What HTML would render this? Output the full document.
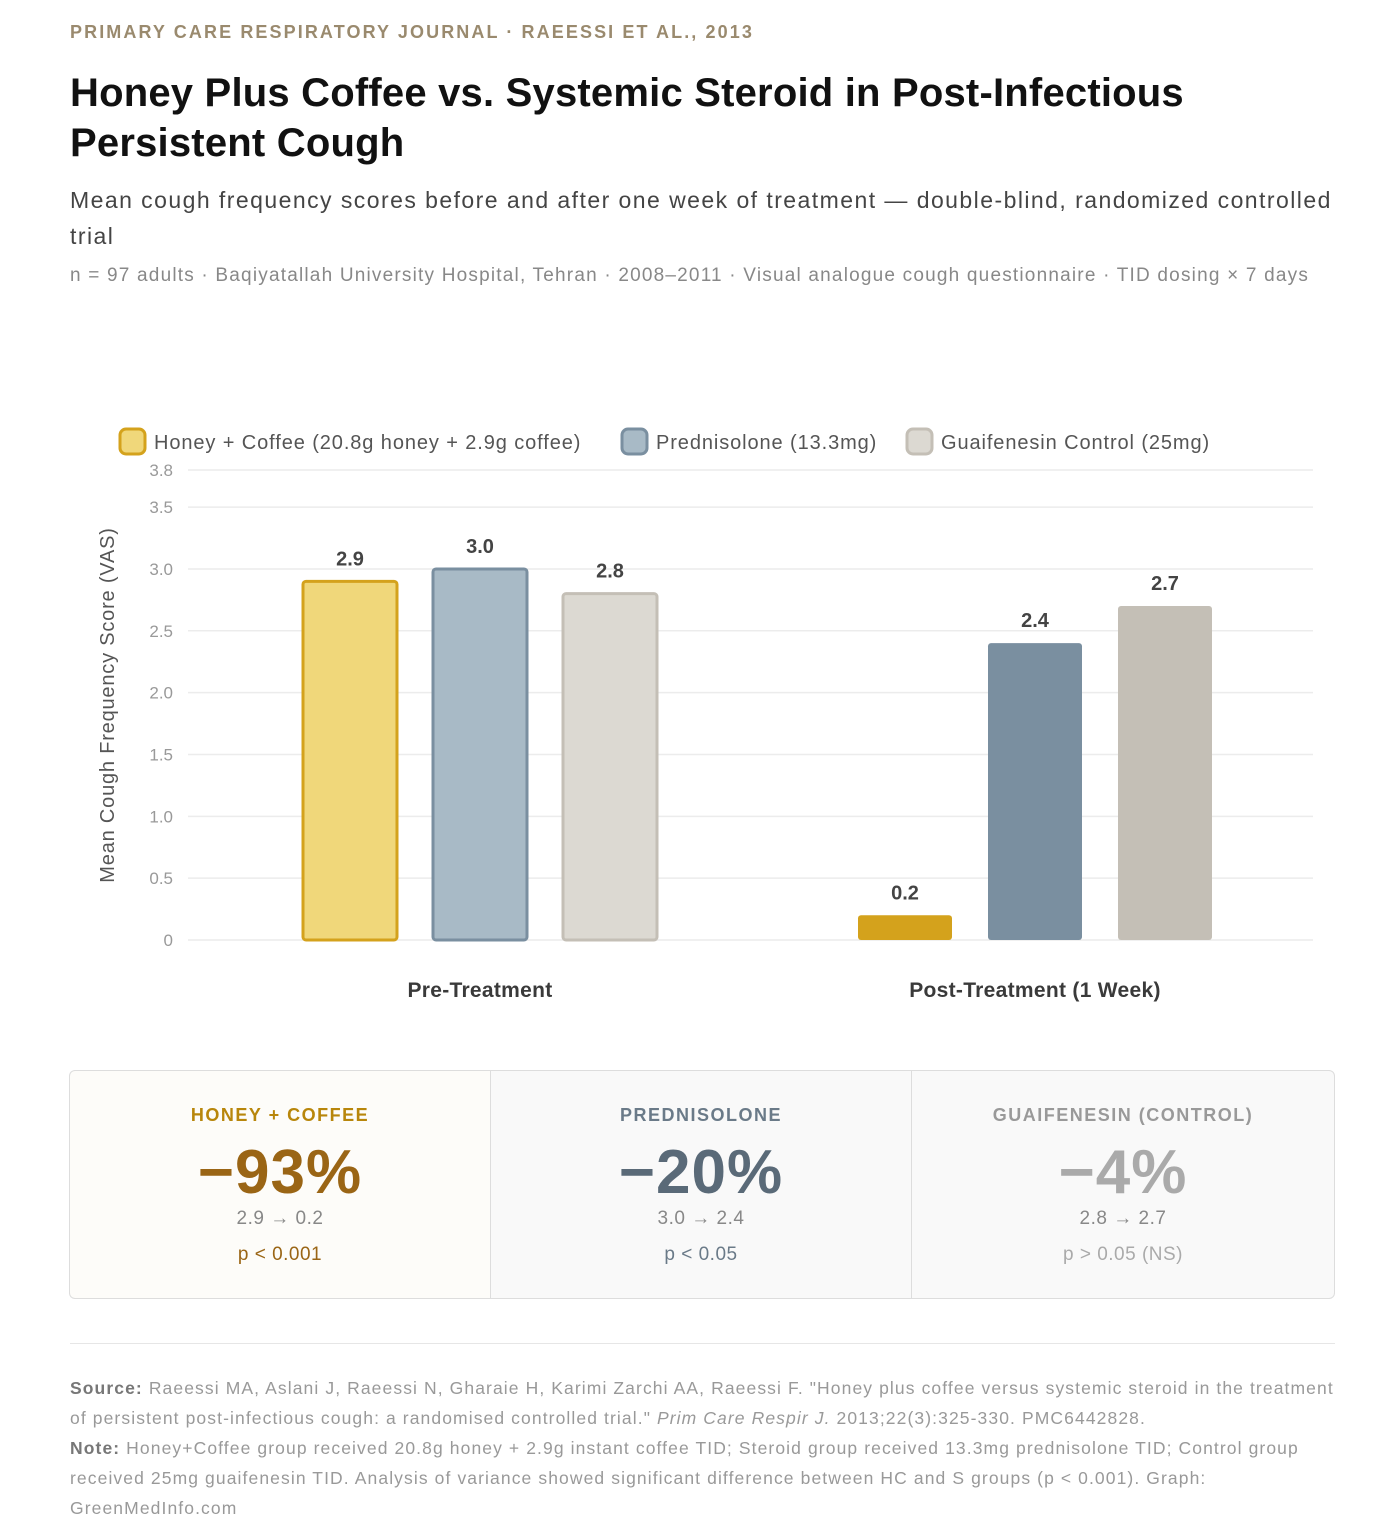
<!DOCTYPE html>
<html><head><meta charset="utf-8"><style>
body{margin:0;width:1400px;height:1540px;background:#fff;font-family:"Liberation Sans",sans-serif;position:relative;overflow:hidden}
.a{position:absolute}
.card{position:absolute;top:1070px;height:229px;width:421px;text-align:center;box-sizing:border-box}
.card .t{position:absolute;top:34px;width:100%;font-size:18px;font-weight:bold;letter-spacing:1.5px}
.card .v{position:absolute;top:66px;width:100%;font-size:62px;font-weight:bold;letter-spacing:1px}
.card .r{position:absolute;top:137px;width:100%;font-size:19px;color:#888;letter-spacing:0.5px}
.card .p{position:absolute;top:173px;width:100%;font-size:19px;letter-spacing:0.5px}
</style></head><body>
<div class="a" style="left:70px;top:22px;font-size:18px;letter-spacing:2.1px;color:#9a8a6e;font-weight:bold">PRIMARY CARE RESPIRATORY JOURNAL · RAEESSI ET AL., 2013</div>
<div class="a" style="left:70px;top:68px;width:1200px;font-size:40px;font-weight:bold;line-height:50px;color:#111;letter-spacing:0.2px">Honey Plus Coffee vs. Systemic Steroid in Post-Infectious Persistent Cough</div>
<div class="a" style="left:70px;top:182px;width:1300px;font-size:23px;line-height:36px;color:#444;letter-spacing:1.45px;white-space:nowrap">Mean cough frequency scores before and after one week of treatment — double-blind, randomized controlled<br>trial</div>
<div class="a" style="left:70px;top:265px;font-size:19px;color:#888;letter-spacing:1.2px">n = 97 adults · Baqiyatallah University Hospital, Tehran · 2008–2011 · Visual analogue cough questionnaire · TID dosing × 7 days</div>

<svg class="a" style="left:0;top:0" width="1400" height="1040" id="chart"></svg>

<div class="card" style="left:69px;background:#fdfcf9;border:1px solid #ddd;border-right:none;border-radius:6px 0 0 6px">
<div class="t" style="color:#b8860b">HONEY + COFFEE</div><div class="v" style="color:#9a6515">−93%</div><div class="r">2.9 → 0.2</div><div class="p" style="color:#9a6515">p &lt; 0.001</div></div>
<div class="card" style="left:490px;background:#f9f9f9;border:1px solid #ddd;border-right:none">
<div class="t" style="color:#6a7a88">PREDNISOLONE</div><div class="v" style="color:#5a6a78">−20%</div><div class="r">3.0 → 2.4</div><div class="p" style="color:#6a7a88">p &lt; 0.05</div></div>
<div class="card" style="left:911px;width:424px;background:#f9f9f9;border:1px solid #ddd;border-radius:0 6px 6px 0">
<div class="t" style="color:#999">GUAIFENESIN (CONTROL)</div><div class="v" style="color:#aaa">−4%</div><div class="r">2.8 → 2.7</div><div class="p" style="color:#aaa">p &gt; 0.05 (NS)</div></div>

<div class="a" style="left:70px;top:1343px;width:1265px;height:1px;background:#e6e6e6"></div>
<div class="a" style="left:70px;top:1373px;width:1300px;font-size:17.5px;line-height:30px;color:#999;letter-spacing:1.1px;white-space:nowrap"><b style="color:#777">Source:</b> Raeessi MA, Aslani J, Raeessi N, Gharaie H, Karimi Zarchi AA, Raeessi F. "Honey plus coffee versus systemic steroid in the treatment<br>of persistent post-infectious cough: a randomised controlled trial." <i>Prim Care Respir J.</i> 2013;22(3):325-330. PMC6442828.<br><b style="color:#777">Note:</b> Honey+Coffee group received 20.8g honey + 2.9g instant coffee TID; Steroid group received 13.3mg prednisolone TID; Control group<br>received 25mg guaifenesin TID. Analysis of variance showed significant difference between HC and S groups (p &lt; 0.001). Graph:<br>GreenMedInfo.com</div>

<script>
const categories=["Pre-Treatment","Post-Treatment (1 Week)"];
const seriesNames=["Honey + Coffee (20.8g honey + 2.9g coffee)","Prednisolone (13.3mg)","Guaifenesin Control (25mg)"];
const honey=[2.9,0.2];
const pred=[3.0,2.4];
const guai=[2.8,2.7];
const ticks=[0,0.5,1.0,1.5,2.0,2.5,3.0,3.5,3.8];
const NS="http://www.w3.org/2000/svg";
const svg=document.getElementById('chart');
const y=v=>940-v*(470/3.8);
const x=i=>480+i*555;
function mk(t,a,txt){const e=document.createElementNS(NS,t);for(const k in a)e.setAttribute(k,a[k]);if(txt!=null)e.textContent=txt;svg.appendChild(e);return e;}
ticks.forEach(t=>{
 const l=mk('line',{x1:188,x2:1313,y1:y(t),y2:y(t),stroke:'#ececec','stroke-width':1.5});
 
 
 const tx=mk('text',{x:173,y:y(t)+6,'text-anchor':'end','font-size':17,fill:'#999','font-family':'Liberation Sans'},t===0?'0':t.toFixed(1));
 
 
});
const yt=mk('text',{x:0,y:0,transform:'translate(114,705) rotate(-90)','text-anchor':'middle','font-size':20,'letter-spacing':'0.8',fill:'#555','font-family':'Liberation Sans'},'Mean Cough Frequency Score (VAS)');


const series=[honey,pred,guai];
const preFill=['#f0d77a','#a8bac6','#dcd9d2'],stroke=['#d4a21c','#7a8fa0','#c4bfb6'],postFill=['#d4a21c','#7a8fa0','#c4bfb6'];
categories.forEach((c,i)=>{
 const cl=mk('text',{x:x(i),y:997,'text-anchor':'middle','font-size':21,'font-weight':'bold','letter-spacing':'0.3',fill:'#3a3a3a','font-family':'Liberation Sans'},c);
 
 
 series.forEach((s,j)=>{
  const cx=x(i)+(j-1)*130, top=y(s[i]);
  const r=mk('rect',{x:cx-47,y:top,width:94,height:940-top,rx:3,fill:i===0?preFill[j]:postFill[j],stroke:stroke[j],'stroke-width':i===0?3:0});
  
  
  const v=mk('text',{x:cx,y:top-16,'text-anchor':'middle','font-size':20,'font-weight':'bold',fill:'#444','font-family':'Liberation Sans'},s[i].toFixed(1));
  
  
 });
});
const lx=[120,622,907];
seriesNames.forEach((n,j)=>{
 const r=mk('rect',{x:lx[j],y:429,width:25,height:25,rx:6,fill:preFill[j],stroke:stroke[j],'stroke-width':3});
 
 
 const t=mk('text',{x:lx[j]+34,y:449,'font-size':20,'letter-spacing':'0.9',fill:'#555','font-family':'Liberation Sans'},n);
 
 
});
</script>
</body></html>
